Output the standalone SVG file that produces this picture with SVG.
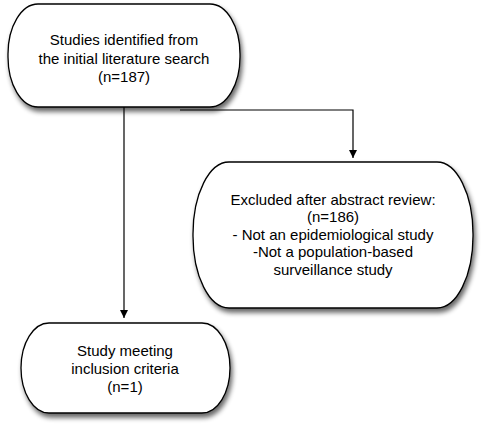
<svg xmlns="http://www.w3.org/2000/svg" width="484" height="427" viewBox="0 0 484 427">
<style>
.box{fill:#fff;stroke:#000;stroke-width:1.3;filter:url(#sh)}
.lbl{font-family:"Liberation Sans",Arial,sans-serif;font-size:15px;fill:#000;text-anchor:middle}
.con{fill:none;stroke:#000;stroke-width:1.2}
</style>
<defs>
<filter id="sh" x="-10%" y="-10%" width="130%" height="130%">
<feGaussianBlur in="SourceAlpha" stdDeviation="2.5"/>
<feOffset dx="2" dy="4" result="b"/>
<feComponentTransfer><feFuncA type="linear" slope="0.6"/></feComponentTransfer>
<feMerge><feMergeNode/><feMergeNode in="SourceGraphic"/></feMerge>
</filter>
<marker id="ah" viewBox="0 0 10 10" refX="10" refY="5" markerWidth="8" markerHeight="10" markerUnits="userSpaceOnUse" orient="auto">
<path d="M0,0 L10,5 L0,10 Z" fill="#000"/>
</marker>
</defs>
<g id="connectors">
<path class="con" d="M124,107 V318" marker-end="url(#ah)"/>
<path class="con" d="M180,110 H353 V158" marker-end="url(#ah)"/>
</g>
<g id="n1">
<rect class="box" x="8" y="4" width="232" height="103" rx="30" ry="50"/>
<text class="lbl" x="124" y="45">Studies identified from</text>
<text class="lbl" x="124" y="64">the initial literature search</text>
<text class="lbl" x="124" y="82">(n=187)</text>
</g>
<g id="n2">
<rect class="box" x="193" y="162" width="280" height="146" rx="36" ry="72"/>
<text class="lbl" x="333" y="205">Excluded after abstract review:</text>
<text class="lbl" x="333" y="222">(n=186)</text>
<text class="lbl" x="333" y="240">- Not an epidemiological study</text>
<text class="lbl" x="333" y="257">-Not a population-based</text>
<text class="lbl" x="333" y="275">surveillance study</text>
</g>
<g id="n3">
<rect class="box" x="21" y="323" width="209" height="90" rx="28" ry="45"/>
<text class="lbl" x="125" y="356">Study meeting</text>
<text class="lbl" x="125" y="374">inclusion criteria</text>
<text class="lbl" x="125" y="392">(n=1)</text>
</g>
</svg>
